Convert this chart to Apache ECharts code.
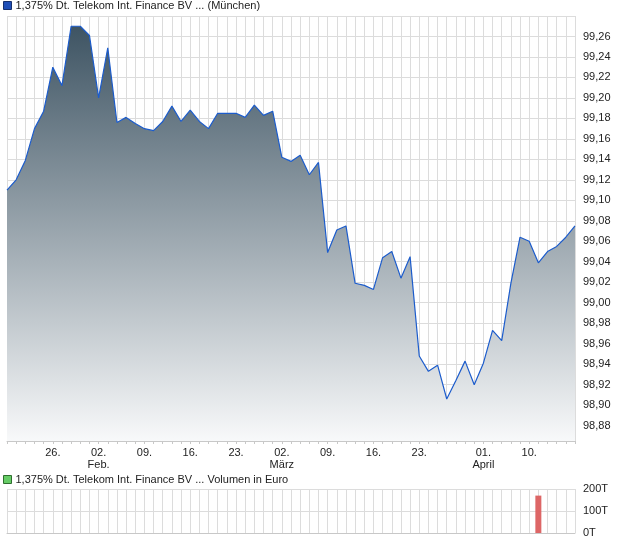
<!DOCTYPE html>
<html>
<head>
<meta charset="utf-8">
<script src="https://cdn.jsdelivr.net/npm/echarts@6/dist/echarts.min.js"></script>
<style>
  html, body { margin: 0; padding: 0; background: #fff; }
  #chart { width: 620px; height: 546px; }
</style>
</head>
<body>
<div id="chart"></div>
<script>
// Handelstage (München)
var dates = [
  '19.01.', '20.01.', '21.01.', '22.01.', '23.01.', '26.01.', '27.01.', '28.01.', '29.01.', '30.01.',
  '02.02.', '03.02.', '04.02.', '05.02.', '06.02.', '09.02.', '10.02.', '11.02.', '12.02.', '13.02.',
  '16.02.', '17.02.', '18.02.', '19.02.', '20.02.', '23.02.', '24.02.', '25.02.', '26.02.', '27.02.',
  '02.03.', '03.03.', '04.03.', '05.03.', '06.03.', '09.03.', '10.03.', '11.03.', '12.03.', '13.03.',
  '16.03.', '17.03.', '18.03.', '19.03.', '20.03.', '23.03.', '24.03.', '25.03.', '26.03.', '27.03.',
  '30.03.', '31.03.', '01.04.', '02.04.', '07.04.', '08.04.', '09.04.', '10.04.', '13.04.', '14.04.',
  '15.04.', '16.04.', '17.04.'
];

// Kurs
var prices = [
  99.110, 99.120, 99.139, 99.170, 99.187, 99.230, 99.212, 99.270, 99.270, 99.261,
  99.200, 99.249, 99.176, 99.181, 99.175, 99.170, 99.168, 99.177, 99.192, 99.177,
  99.188, 99.177, 99.170, 99.185, 99.185, 99.185, 99.181, 99.193, 99.183, 99.187,
  99.142, 99.138, 99.144, 99.125, 99.137, 99.049, 99.071, 99.075, 99.019, 99.017,
  99.013, 99.044, 99.050, 99.024, 99.045, 98.948, 98.933, 98.939, 98.906, 98.924,
  98.943, 98.920, 98.941, 98.973, 98.963, 99.019, 99.064, 99.060, 99.039, 99.050,
  99.055, 99.064, 99.075
];

// Volumen in Tausend Euro
var volumes = [
  0, 0, 0, 0, 0, 0, 0, 0, 0, 0,
  0, 0, 0, 0, 0, 0, 0, 0, 0, 0,
  0, 0, 0, 0, 0, 0, 0, 0, 0, 0,
  0, 0, 0, 0, 0, 0, 0, 0, 0, 0,
  0, 0, 0, 0, 0, 0, 0, 0, 0, 0,
  0, 0, 0, 0, 0, 0, 0, 0, 170, 0,
  0, 0, 0
];

// Achsenbeschriftung
var tickLabels = {
  '26.01.': '26.', '02.02.': '02.\nFeb.', '09.02.': '09.', '16.02.': '16.', '23.02.': '23.',
  '02.03.': '02.\nMärz', '09.03.': '09.', '16.03.': '16.', '23.03.': '23.',
  '01.04.': '01.\nApril', '10.04.': '10.'
};

var priceName = '1,375% Dt. Telekom Int. Finance BV ... (München)';
var volName = '1,375% Dt. Telekom Int. Finance BV ... Volumen in Euro';

var font = "'Liberation Sans', Arial, sans-serif";
var gridColor = '#dcdcdc';
var frameColor = '#c8c8c8';

var chart = echarts.init(document.getElementById('chart'));

var option = {
  animation: false,
  textStyle: { fontFamily: font, color: '#222' },
  legend: [{
    left: 3, top: 0, padding: 0,
    icon: 'rect', itemWidth: 8, itemHeight: 8, itemGap: 4,
    selectedMode: false,
    textStyle: { fontSize: 11, color: '#222', fontFamily: font, padding: [0, 0, 0, -1] },
    data: [{ name: priceName, itemStyle: { color: '#1f4fb8', borderColor: '#16306e', borderWidth: 1 } }]
  }, {
    left: 3, top: 474, padding: 0,
    icon: 'rect', itemWidth: 8, itemHeight: 8,
    selectedMode: false,
    textStyle: { fontSize: 11, color: '#222', fontFamily: font, padding: [0, 0, 0, -1] },
    data: [{ name: volName, itemStyle: { color: '#66cc66', borderColor: '#2f6e2f', borderWidth: 1 } }]
  }],
  grid: [
    { left: 7, top: 16, width: 568, height: 425 },   // Kurs
    { left: 7, top: 16, width: 568, height: 430 },   // Raster + Skala Kurs
    { left: 7, top: 489, width: 568, height: 44 }    // Volumen
  ],
  xAxis: [{
    gridIndex: 0,
    type: 'category',
    data: dates,
    boundaryGap: false,
    axisLine: { lineStyle: { color: frameColor } },
    axisTick: { show: true, interval: 0, length: 3, lineStyle: { color: frameColor } },
    axisLabel: {
      interval: function (i, v) { return tickLabels[v] !== undefined; },
      formatter: function (v) { return tickLabels[v] || ''; },
      fontSize: 11, color: '#222', margin: 6, lineHeight: 12
    },
    splitLine: { show: true, interval: 0, lineStyle: { color: gridColor } }
  }, {
    gridIndex: 1,
    type: 'category',
    data: dates,
    boundaryGap: false,
    show: false
  }, {
    gridIndex: 2,
    type: 'category',
    data: dates,
    boundaryGap: false,
    axisLine: { lineStyle: { color: frameColor } },
    axisTick: { show: false },
    axisLabel: { show: false },
    splitLine: { show: true, interval: 0, lineStyle: { color: gridColor } }
  }],
  yAxis: [{
    gridIndex: 0,
    type: 'value',
    min: 98.865,
    max: 99.28,
    show: false,
    splitLine: { show: false }
  }, {
    gridIndex: 1,
    type: 'value',
    position: 'right',
    min: 98.86,
    max: 99.28,
    interval: 0.02,
    axisLine: { show: false },
    axisTick: { show: false },
    axisLabel: {
      showMinLabel: false,
      showMaxLabel: false,
      margin: 8,
      fontSize: 11,
      color: '#222',
      formatter: function (v) { return v.toFixed(2).replace('.', ','); }
    },
    splitLine: { show: true, showMinLine: false, lineStyle: { color: gridColor } }
  }, {
    gridIndex: 2,
    type: 'value',
    position: 'right',
    min: 0,
    max: 200,
    interval: 100,
    axisLine: { show: false },
    axisTick: { show: false },
    axisLabel: {
      margin: 8,
      fontSize: 11,
      color: '#222',
      formatter: function (v) { return v + 'T'; }
    },
    splitLine: { show: true, lineStyle: { color: gridColor } }
  }],
  series: [{
    name: priceName,
    type: 'line',
    xAxisIndex: 0,
    yAxisIndex: 0,
    data: prices,
    symbol: 'none',
    color: '#1f4fb8',
    lineStyle: { color: '#1c5ccc', width: 1.2 },
    areaStyle: {
      origin: 'start',
      opacity: 1,
      color: new echarts.graphic.LinearGradient(0, 0, 0, 1, [
        { offset: 0, color: '#3e5463' },
        { offset: 1, color: '#f8f9fa' }
      ])
    }
  }, {
    name: volName,
    type: 'bar',
    xAxisIndex: 2,
    yAxisIndex: 2,
    data: volumes,
    barWidth: 6,
    itemStyle: { color: '#dd6666' }
  }]
};

chart.setOption(option);
</script>
</body>
</html>
